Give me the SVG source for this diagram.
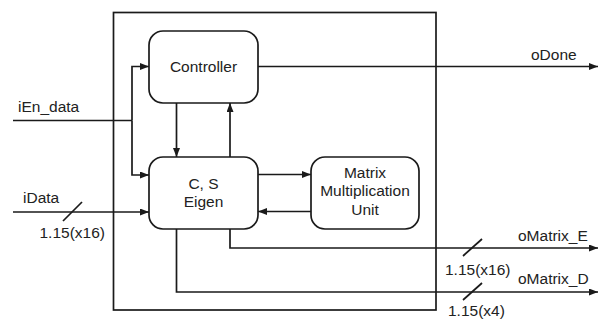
<svg xmlns="http://www.w3.org/2000/svg" width="599" height="320" viewBox="0 0 599 320">
<style>
.box{fill:#fff;stroke:#1a1a1a;stroke-width:1.7}
.ln{fill:none;stroke:#1a1a1a;stroke-width:1.7}
.ar{marker-end:url(#arr)}
text{font-family:"Liberation Sans",Arial,sans-serif;font-size:15.5px;fill:#222}
.c{text-anchor:middle}
</style>
<defs>
<marker id="arr" markerUnits="userSpaceOnUse" markerWidth="10" markerHeight="8" refX="9" refY="3.5" orient="auto">
<path d="M0,0 L9,3.5 L0,7 z" fill="#1a1a1a"/>
</marker>
</defs>
<rect id="outer" x="113.5" y="12.5" width="322.5" height="297.5" fill="#fff" stroke="#1a1a1a" stroke-width="1.7"/>
<g id="connectors">
<path class="ln" d="M13,120.5 H132"/>
<path class="ln ar" d="M132,120.5 V66.5 H149"/>
<path class="ln ar" d="M132,120.5 V175 H149"/>
<path class="ln ar" d="M13,212 H149"/>
<path class="ln" d="M63,221 L82,202"/>
<path class="ln ar" d="M176.5,103 V157"/>
<path class="ln ar" d="M230,157 V103"/>
<path class="ln ar" d="M258,174.5 H311"/>
<path class="ln ar" d="M311,211.5 H258"/>
<path class="ln ar" d="M258,66.5 H598"/>
<path class="ln ar" d="M230,229 V248 H598"/>
<path class="ln ar" d="M176.5,229 V292 H598"/>
<path class="ln" d="M463,256 L482,239"/>
<path class="ln" d="M463,300 L482,283"/>
</g>
<g id="controller">
<rect class="box" x="149" y="31" width="109" height="72" rx="14"/>
<text class="c" x="203.5" y="72">Controller</text>
</g>
<g id="cs_eigen">
<rect class="box" x="149" y="157" width="109" height="72" rx="14"/>
<text class="c" x="203.5" y="189">C, S</text>
<text class="c" x="203.5" y="206.5">Eigen</text>
</g>
<g id="mmu">
<rect class="box" x="311" y="157" width="108" height="72" rx="14"/>
<text class="c" x="365" y="177.5">Matrix</text>
<text class="c" x="365" y="196">Multiplication</text>
<text class="c" x="365" y="214.5">Unit</text>
</g>
<g id="labels">
<text x="18" y="112">iEn_data</text>
<text x="23" y="203">iData</text>
<text x="39.5" y="238">1.15(x16)</text>
<text x="531" y="59.5">oDone</text>
<text x="518" y="241">oMatrix_E</text>
<text x="518" y="283.5">oMatrix_D</text>
<text x="445" y="275">1.15(x16)</text>
<text x="448" y="315.5">1.15(x4)</text>
</g>
</svg>
